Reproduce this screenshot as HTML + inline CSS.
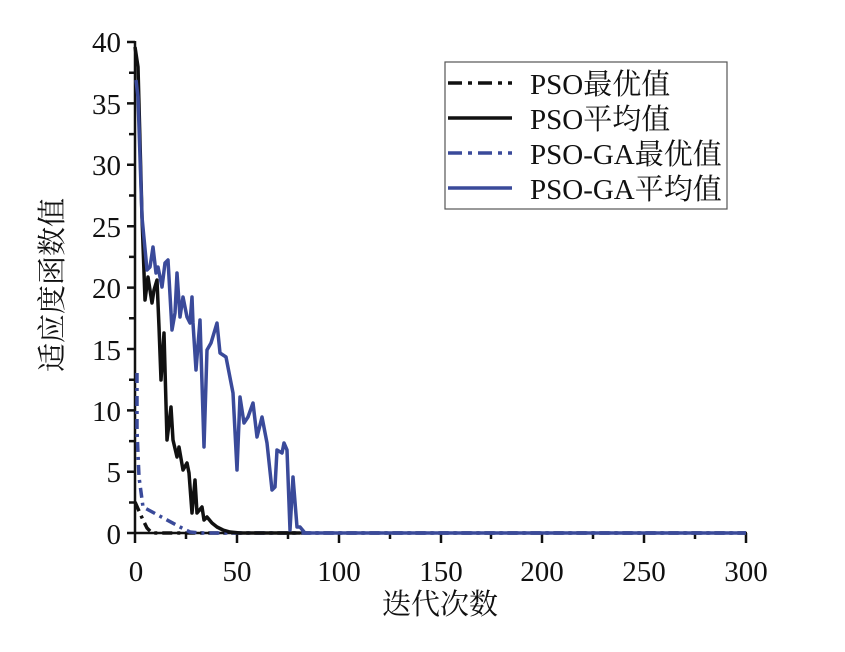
<!DOCTYPE html>
<html><head><meta charset="utf-8"><style>
body{margin:0;background:#fff}
svg text{font-family:"Liberation Serif","Noto Serif CJK SC",serif;fill:#111}
</style></head><body>
<svg width="845" height="647" viewBox="0 0 845 647" xmlns="http://www.w3.org/2000/svg">
<rect width="845" height="647" fill="#fff"/>
<g stroke="#111" stroke-width="2.5" fill="none">
<line x1="135" y1="41" x2="135" y2="534"/>
<line x1="134" y1="533" x2="747" y2="533"/>
<path d="M135 42h-8M135 72.7h-6M135 103.4h-8M135 134.1h-6M135 164.8h-8M135 195.5h-6M135 226.2h-8M135 256.9h-6M135 287.6h-8M135 318.3h-6M135 349h-8M135 379.7h-6M135 410.4h-8M135 441.1h-6M135 471.8h-8M135 502.5h-6M135 533h-8"/>
<path d="M135 533v10M186 533v6M237 533v10M288 533v6M339 533v10M390 533v6M441 533v10M491 533v6M542 533v10M593 533v6M644 533v10M695 533v6M746 533v10"/>
</g>
<g font-size="29" text-anchor="end">
<text x="121" y="52">40</text><text x="121" y="114">35</text><text x="121" y="175">30</text><text x="121" y="237">25</text><text x="121" y="298">20</text><text x="121" y="360">15</text><text x="121" y="421">10</text><text x="121" y="482">5</text><text x="121" y="544">0</text>
</g>
<g font-size="29" text-anchor="middle">
<text x="136" y="581">0</text><text x="237" y="581">50</text><text x="339" y="581">100</text><text x="441" y="581">150</text><text x="542" y="581">200</text><text x="644" y="581">250</text><text x="746" y="581">300</text>
</g>
<text x="440" y="614" font-size="29" text-anchor="middle">迭代次数</text>
<text transform="translate(62,285) rotate(-90)" font-size="29" text-anchor="middle">适应度函数值</text>
<g fill="none" stroke-width="3.5" stroke-linejoin="round">
<polyline stroke="#111" stroke-dasharray="10,5,3,5" points="135,502 143,520 147,528 152,533 746,533"/>
<polyline stroke="#3a4a9a" stroke-dasharray="10,5,3,5" points="137,373 137,430 139,477 143,507 180,527 190,532 200,533 746,533"/>
<polyline stroke="#111" points="135,47 138,67 142,217 145,300 148,277 152,303 154,290 157,280 159,327 161,380 164,333 167,440 171,407 173,440 177,457 179,447 183,470 187,463 189,473 192,513 195,480 197,513 202,507 204,520 207,517 212,523 217,527 223,530 230,532 240,533 300,533"/>
<polyline stroke="#3a4a9a" points="136,80 138,97 142,217 147,270 150,267 153,247 156,273 158,267 162,287 165,263 168,260 172,330 175,313 177,273 180,317 183,297 187,317 190,323 192,297 193,323 196,370 200,320 204,447 207,350 211,343 214,333 217,323 220,353 226,357 233,393 237,470 240,397 244,423 248,417 253,403 257,437 262,417 267,443 272,490 275,487 277,450 282,453 284,443 287,450 290,530 293,477 297,527 300,527 305,533 746,533"/>
</g>
<rect x="445" y="62" width="282" height="147" fill="#fff" stroke="#555" stroke-width="1.2"/>
<g stroke-width="3.5">
<line x1="448" y1="83" x2="512" y2="83" stroke="#111" stroke-dasharray="14,6,4,6"/>
<line x1="448" y1="118" x2="512" y2="118" stroke="#111"/>
<line x1="448" y1="153" x2="512" y2="153" stroke="#3a4a9a" stroke-dasharray="14,6,4,6"/>
<line x1="448" y1="188" x2="512" y2="188" stroke="#3a4a9a"/>
</g>
<g font-size="29">
<text x="530" y="94">PSO最优值</text>
<text x="530" y="129">PSO平均值</text>
<text x="530" y="164">PSO-GA最优值</text>
<text x="530" y="199">PSO-GA平均值</text>
</g>
</svg>
</body></html>
